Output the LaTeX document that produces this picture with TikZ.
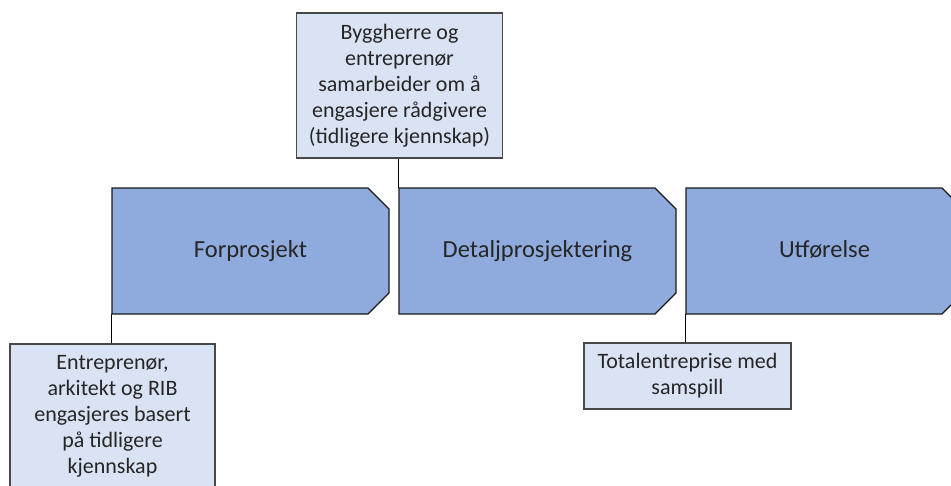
\documentclass[tikz,border=0pt]{standalone}
\usepackage{fontspec}
\setmainfont{Carlito}
\usepackage{tikz}
\usetikzlibrary{positioning}
\definecolor{phaseblue}{HTML}{8FAADC}
\definecolor{noteblue}{HTML}{DAE3F3}
\definecolor{edgegray}{HTML}{1A1A1A}
\tikzset{
  phaseline/.style={draw=edgegray, line width=1.3pt, fill=phaseblue},
  phasebox/.style={minimum width=277, minimum height=126, inner sep=0pt,
    text height=17pt, text depth=5pt,
    font=\fontsize{24.5}{29}\selectfont, text=black!85},
  notebox/.style={draw=edgegray!80, line width=1.1pt, fill=noteblue, inner sep=0pt,
    align=center, font=\fontsize{22}{26}\selectfont, text=black!85},
  link/.style={draw=black, line width=1.3pt}
}
\begin{document}
\begin{tikzpicture}[x=1pt,y=-1pt]
		\useasboundingbox (0,0) rectangle (951,485);
		\clip (0,0) rectangle (951,485);
		
		% Phase blocks
		\foreach \px/\pname/\ptext in {112/forp/Forprosjekt, 399/detalj/Detaljprosjektering, 686/utf/Utførelse}{
			\draw[phaseline] (\px,188) -- ++(256,0) -- ++(21,21) -- ++(0,84) -- ++(-21,21) -- ++(-256,0) -- cycle;
			\node[phasebox] (\pname) at (\px+138.5,251) {\ptext};
		}
		
		% Notes
		\node[notebox, minimum width=206, minimum height=145] (byggherre) at (399.5,85.5)
			{Byggherre og\\entreprenør\\samarbeider om å\\engasjere rådgivere\\(tidligere kjennskap)};
		\node[notebox, minimum width=205, minimum height=145] (entrepr) at (112.5,416.5)
			{Entreprenør,\\arkitekt og RIB\\engasjeres basert\\på tidligere\\kjennskap};
		\node[notebox, minimum width=207, minimum height=66] (totalentr) at (687.5,376)
			{Totalentreprise med\\samspill};
		
		% Links
		\draw[link] (detalj.north west |- byggherre.south) -- (detalj.north west);
		\draw[link] (forp.south west) -- (forp.south west |- entrepr.north);
		\draw[link] (utf.south west) -- (utf.south west |- totalentr.north);
	\end{tikzpicture}
\end{document}
